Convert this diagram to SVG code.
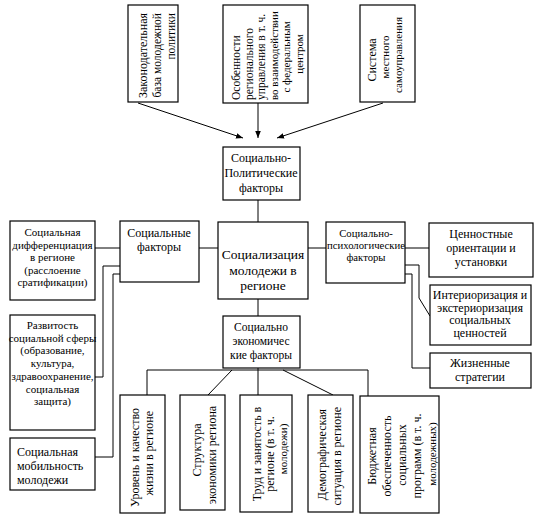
<svg xmlns="http://www.w3.org/2000/svg" width="535" height="527" viewBox="0 0 535 527" font-family="'Liberation Serif', 'Times New Roman', serif">
<style>
.b{fill:#fff;stroke:#000;stroke-width:1.2}
.c{fill:none;stroke:#000;stroke-width:1}
text{font-family:'Liberation Serif','Times New Roman',serif;fill:#000}
.m{text-anchor:middle}
.e{text-anchor:end}
.f11{font-size:11px}
.f115{font-size:11.5px}
.f12{font-size:12px}
</style>
<defs>
<marker id="ar" viewBox="0 0 10 10" refX="10" refY="5" markerWidth="7" markerHeight="7" orient="auto" markerUnits="userSpaceOnUse">
<path d="M0,1 L10,5 L0,9 z" fill="#000"/>
</marker>
</defs>
<rect width="535" height="527" fill="#fff"/>
<g id="connectors">
<line class="c" x1="138" y1="103" x2="243" y2="138" marker-end="url(#ar)"/>
<line class="c" x1="258" y1="103" x2="258" y2="138" marker-end="url(#ar)"/>
<line class="c" x1="383" y1="103" x2="277" y2="138" marker-end="url(#ar)"/>
<line class="c" x1="258" y1="200" x2="258" y2="222"/>
<line class="c" x1="258" y1="299" x2="258" y2="316"/>
<line class="c" x1="199" y1="248" x2="218" y2="248"/>
<line class="c" x1="95" y1="248" x2="120" y2="248"/>
<line class="c" x1="308" y1="248" x2="326" y2="248"/>
<line class="c" x1="405" y1="248" x2="429" y2="248"/>
<polyline class="c" points="120,266 103,266 103,377 95,377"/>
<polyline class="c" points="120,274 113,274 113,457 95,457"/>
<polyline class="c" points="405,265 419,265 419,298 430,316"/>
<polyline class="c" points="405,274 412,274 412,368 430,368"/>
<polyline class="c" points="147,395 147,370 368,370 368,396"/>
<line class="c" x1="258" y1="368" x2="258" y2="395"/>
<line class="c" x1="232" y1="370" x2="208" y2="395"/>
<line class="c" x1="283" y1="370" x2="333" y2="395"/>
</g>
<g id="law">
<rect class="b" x="128" y="5" width="50" height="97"/>
<text class="f12 e" transform="translate(147,13) rotate(-90)">Законодательная</text>
<text class="f115 e" transform="translate(161,13) rotate(-90)">база молодежной</text>
<text class="f115 e" transform="translate(175,13) rotate(-90)">политики</text>
</g>
<g id="regional">
<rect class="b" x="223" y="5" width="85" height="98"/>
<text class="f115" transform="translate(240,100) rotate(-90)">Особенности</text>
<text class="f115" transform="translate(252.5,100) rotate(-90)">регионального</text>
<text class="f115" transform="translate(265,100) rotate(-90)">управления в т. ч.</text>
<text class="f11" transform="translate(277.5,100) rotate(-90)">во взаимодействии</text>
<text class="f11 m" transform="translate(290,57) rotate(-90)">с федеральным</text>
<text class="f11 m" transform="translate(302.5,54) rotate(-90)">центром</text>
</g>
<g id="local">
<rect class="b" x="360" y="5" width="55" height="97"/>
<text class="f12 m" transform="translate(376,60) rotate(-90)">Система</text>
<text class="f11 m" transform="translate(389,57) rotate(-90)">местного</text>
<text class="f11 m" transform="translate(402,55) rotate(-90)">самоуправления</text>
</g>
<g id="sociopolitical">
<rect class="b" x="223" y="147" width="77" height="53"/>
<text class="f12 m" x="261" y="162">Социально-</text>
<text class="f12 m" x="261" y="177">Политические</text>
<text class="f12 m" x="261" y="192">факторы</text>
</g>
<g id="center">
<rect class="b" x="218" y="222" width="90" height="77"/>
<text class="m" style="font-size:13.5px" x="263" y="259">Социализация</text>
<text class="m" style="font-size:13.5px" x="263" y="274.5">молодежи в</text>
<text class="m" style="font-size:13.5px" x="263" y="290">регионе</text>
</g>
<g id="social">
<rect class="b" x="120" y="221" width="79" height="61"/>
<text class="f12 m" x="159" y="237">Социальные</text>
<text class="f12 m" x="159" y="251">факторы</text>
</g>
<g id="differentiation">
<rect class="b" x="10" y="221" width="85" height="79"/>
<text class="f11 m" x="52.5" y="236">Социальная</text>
<text class="f11 m" x="52.5" y="248.5">дифференциация</text>
<text class="f11 m" x="52.5" y="261">в регионе</text>
<text class="f11 m" x="52.5" y="273.5">(расслоение</text>
<text class="f11 m" x="52.5" y="286">сратификации)</text>
</g>
<g id="sphere">
<rect class="b" x="10" y="315" width="85" height="115"/>
<text class="f11 m" x="52.5" y="329">Развитость</text>
<text class="f11 m" x="52.5" y="341.7">социальной сферы</text>
<text class="f11 m" x="52.5" y="354.4">(образование,</text>
<text class="f11 m" x="52.5" y="367.1">культура,</text>
<text class="f11 m" x="52.5" y="379.8">здравоохранение,</text>
<text class="f11 m" x="52.5" y="392.5">социальная</text>
<text class="f11 m" x="52.5" y="405.2">защита)</text>
</g>
<g id="mobility">
<rect class="b" x="10" y="438" width="85" height="52"/>
<text class="f12" x="17" y="456">Социальная</text>
<text class="f12" x="17" y="470">мобильность</text>
<text class="f12" x="17" y="484">молодежи</text>
</g>
<g id="psych">
<rect class="b" x="326" y="222" width="79" height="61"/>
<text class="m" style="font-size:10.7px" x="366" y="237">Социально-</text>
<text class="m" style="font-size:10.7px" x="366" y="249">психологические</text>
<text class="m" style="font-size:10.7px" x="366" y="261">факторы</text>
</g>
<g id="values">
<rect class="b" x="429" y="223" width="104" height="54"/>
<text class="f12 m" x="481" y="238">Ценностные</text>
<text class="f12 m" x="481" y="252">ориентации и</text>
<text class="f12 m" x="481" y="266">установки</text>
</g>
<g id="interiorization">
<rect class="b" x="430" y="285" width="101" height="60"/>
<text class="f12 m" x="480" y="299">Интериоризация и</text>
<text class="f12 m" x="480" y="311.5">экстериоризация</text>
<text class="f12 m" x="480" y="324">социальных</text>
<text class="f12 m" x="480" y="336.5">ценностей</text>
</g>
<g id="strategies">
<rect class="b" x="430" y="353" width="101" height="35"/>
<text class="f12 m" x="480" y="367">Жизненные</text>
<text class="f12 m" x="480" y="381">стратегии</text>
</g>
<g id="socioeconomic">
<rect class="b" x="223" y="316" width="77" height="52"/>
<text class="f115 m" x="261" y="331">Социально</text>
<text class="f115 m" x="261" y="345">экономичес</text>
<text class="f115 m" x="261" y="359">кие факторы</text>
</g>
<g id="living">
<rect class="b" x="120" y="395" width="45" height="118"/>
<text class="f12 e" transform="translate(139,408) rotate(-90)">Уровень и качество</text>
<text class="f12 e" transform="translate(153,411) rotate(-90)">жизни в регионе</text>
</g>
<g id="structure">
<rect class="b" x="180" y="395" width="45" height="115"/>
<text class="f12 m" transform="translate(201,450) rotate(-90)">Структура</text>
<text class="f12 m" transform="translate(216,455) rotate(-90)">экономики региона</text>
</g>
<g id="labour">
<rect class="b" x="240" y="395" width="52" height="117"/>
<text class="f12 m" transform="translate(261,454) rotate(-90)">Труд и занятость в</text>
<text class="f12 m" transform="translate(274,454) rotate(-90)">регионе (в т. ч.</text>
<text class="f11 m" transform="translate(287,449) rotate(-90)">молодежи)</text>
</g>
<g id="demography">
<rect class="b" x="308" y="395" width="45" height="117"/>
<text class="f12 e" transform="translate(326,409) rotate(-90)">Демографическая</text>
<text class="f12 e" transform="translate(341,407) rotate(-90)">ситуация  в регионе</text>
</g>
<g id="budget">
<rect class="b" x="360" y="396" width="79" height="117"/>
<text class="f12 m" transform="translate(376,456) rotate(-90)">Бюджетная</text>
<text class="f12 m" transform="translate(391,456) rotate(-90)">обеспеченность</text>
<text class="f12 m" transform="translate(406,455) rotate(-90)">социальных</text>
<text class="f12 m" transform="translate(421,456) rotate(-90)">программ (в т. ч.</text>
<text class="f11 m" transform="translate(436,454) rotate(-90)">молодежных)</text>
</g>
</svg>
